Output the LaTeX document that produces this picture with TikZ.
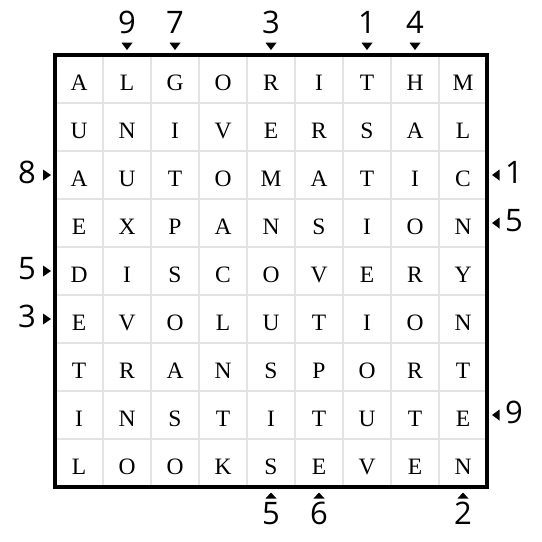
\documentclass[tikz,border=0pt]{standalone}
\usepackage{fontspec}
\setmainfont{Liberation Serif}
\newfontfamily\cluefont{Open Sans}
\definecolor{gridgray}{RGB}{226,226,232}
\begin{document}
\begin{tikzpicture}[x=1pt,y=-1pt,
  letter/.style={font=\fontsize{23.5}{23.5}\selectfont, inner sep=0pt, anchor=base},
  clue/.style={font=\cluefont\fontsize{31}{31}\selectfont, inner sep=0pt},
  marker/.style={fill=black, draw=none},
  gridline/.style={draw=gridgray, line width=1.8pt},
  border/.style={draw=black, line width=4.5pt}]
\useasboundingbox[fill=white] (0,0) rectangle (542,542);
% grid lines
\foreach \k in {1,...,8}{
  \draw[gridline] (55+48*\k,55) -- (55+48*\k,487);
  \draw[gridline] (55,55+48*\k) -- (487,55+48*\k);
}
\draw[border] (55,55) rectangle (487,487);
% letters
\foreach \rw [count=\r] in {{A,L,G,O,R,I,T,H,M},{U,N,I,V,E,R,S,A,L},{A,U,T,O,M,A,T,I,C},{E,X,P,A,N,S,I,O,N},{D,I,S,C,O,V,E,R,Y},{E,V,O,L,U,T,I,O,N},{T,R,A,N,S,P,O,R,T},{I,N,S,T,I,T,U,T,E},{L,O,O,K,S,E,V,E,N}}{
  \foreach \ch [count=\col] in \rw {
    \node[letter] (L\r-\col) at (31+48*\col, 42.5+48*\r) {\ch};
  }
}
% top clues (col:value)
\foreach \col/\v in {2/9,3/7,5/3,7/1,8/4}{
  \node[clue, anchor=base] (T\col) at (31+48*\col, 33) {\v};
  \fill[marker] (25.5+48*\col,42.7) -- (36.5+48*\col,42.7) -- (31+48*\col,50) -- cycle;
}
% bottom clues
\foreach \col/\v in {5/5,6/6,9/2}{
  \node[clue, anchor=base] (B\col) at (31+48*\col, 524) {\v};
  \fill[marker] (25.5+48*\col,498.5) -- (36.5+48*\col,498.5) -- (31+48*\col,492.5) -- cycle;
}
% left clues
\foreach \r/\v in {3/8,5/5,6/3}{
  \node[clue, anchor=base east] (W\r) at (36, 39+48*\r) {\v};
  \fill[marker] (43,25.5+48*\r) -- (43,36.5+48*\r) -- (51,31+48*\r) -- cycle;
}
% right clues
\foreach \r/\v in {3/1,4/5,8/9}{
  \node[clue, anchor=base west] (E\r) at (505, 39+48*\r) {\v};
  \fill[marker] (499.5,25.5+48*\r) -- (499.5,36.5+48*\r) -- (492,31+48*\r) -- cycle;
}
\end{tikzpicture}
\end{document}
